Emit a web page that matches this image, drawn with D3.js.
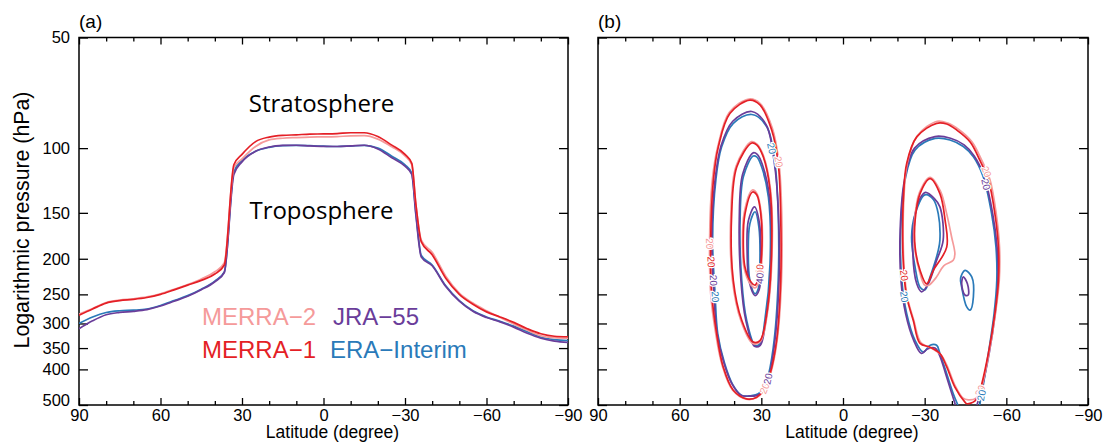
<!DOCTYPE html>
<html><head><meta charset="utf-8">
<script src="https://cdn.jsdelivr.net/npm/d3@7"></script>
<style>body{margin:0;background:#fff} svg{display:block}</style>
</head><body><svg id="c" width="1106" height="448"></svg>
<script>
// ---------- Panel (a): tropopause pressure (hPa) vs latitude ----------
const latA = [90,85,80,75,70,65,60,55,50,45,40,36.5,33,30,25,20,15,10,5,0,-5,-10,-15,-20,-25,-30,-32.5,-34,-36,-40,-45,-50,-55,-60,-65,-70,-75,-80,-85,-90];
const merra2A = [283,273,263,259,257,254,249,242,235,227,217,205,113,107,99,95,94,93.6,93.3,93.2,93,92.6,92.5,94.5,99,105,111,142,178,192,223,248,264,277,289,301,313,324,328,329];
const merra1A = [285,274,264,260,258,255,250,243,236,229,220,208,111,104,96,93.3,92.3,92,91.6,91.5,91.3,90.8,90.8,93,98,104,110,142,180,195,226,250,266,279,288,298,310,320,325,326];
const jra55A  = [310,295,284,280,278,275,269,261,253,243,231,218,118,109,102,99.3,98.3,98.2,98.6,98.9,99,98.6,98.2,100.5,106,112,118,152,198,209,238,261,278,289,297,307,319,329,335,338];
const eraA    = [300,288,280,277,276,274,268,260,252,242,230,217,116,108,102,99.5,98.5,98.3,98.5,98.8,99,98.7,98.3,100,105,111,117,150,196,208,237,260,277,288,296,305,316,327,332,334];

// ---------- Panel (b): zonal wind contours, [latitude, pressure] ----------
// Northern jet
const nh20_merra1 = [[34.2,74],[30.5,76.3],[26.2,89.3],[23.8,110],[22.9,151],[22.9,229],[24.4,334],[26.8,411],[29.3,456],[31.7,476],[35.4,481],[40.3,456],[44,394],[46.4,320],[48.2,249],[48.6,178],[47.6,122],[45.8,99.3],[41.5,80.4]];
const nh20_merra2 = [[34.5,73.5],[30.5,75.5],[26,88],[23.5,110],[22.5,151],[22.6,229],[24.2,334],[26.6,411],[29.2,458],[31.8,478],[35.6,482],[40.6,455],[44.3,392],[46.8,318],[48.6,249],[49,178],[48,122],[46,99],[41.8,80]];
const nh20_era = [[33.5,81],[28,87.5],[25,110],[23.8,151],[23.8,229],[25.6,348],[28,428],[31.1,466],[34,472],[37.2,471],[40.5,440],[43.5,385],[46,320],[47,249],[47.9,178],[46.7,122],[44.6,99.3],[40.3,85.6]];
const nh20_jra = [[33.5,79.5],[28.2,86.5],[25.2,110],[23.7,151],[23.5,229],[25.3,348],[27.7,430],[30.8,468],[34,473],[37.5,470],[40.8,438],[43.8,383],[46.3,318],[47.4,249],[48.2,178],[47,122],[44.8,98.5],[40.5,84.5]];
const nh30_merra1 = [[33.5,96.8],[31.7,98],[29.3,105.6],[26.8,130],[26.2,186],[28,282],[30.5,334],[33,337],[37.2,294],[40.3,229],[40.9,151],[39,112.4]];
const nh30_merra2 = [[33.6,96],[31.6,97.5],[29.2,105],[26.6,130],[26,186],[27.8,282],[30.4,336],[33.2,340],[37.5,295],[40.6,229],[41.2,151],[39.3,112]];
const nh30_era = [[33,105.1],[31.7,105.6],[29.9,112.4],[27.4,136],[26.8,206],[28.7,294],[30.5,341],[32.3,344],[35.4,294],[37.2,229],[37.8,157],[36.6,119.7]];
const nh30_jra = [[33,103],[31.5,104],[29.6,111],[27,136],[26.4,206],[28.4,296],[30.4,344],[32.5,346],[35.7,294],[37.5,229],[38.1,156],[36.9,118]];
const nh40_merra1 = [[33.2,131.6],[31.7,134],[30.2,151],[29.9,194],[31.1,226],[32.3,236],[34.2,229],[36,211],[36.6,186],[36,151]];
const nh40_merra2 = [[33.3,130],[31.6,133],[30,151],[29.7,194],[30.6,228],[32.3,240],[34.4,232],[36.3,212],[36.9,186],[36.3,150]];
const nh40_era = [[32.3,149],[30.9,164],[30.5,202],[31.1,241],[32.3,249],[34.2,229],[34.8,194],[34.2,160.5]];
const nh40_jra = [[32.5,144.5],[30.7,160],[30.2,202],[30.8,243],[32.3,252],[34.5,230],[35.2,194],[34.8,158]];
// Southern jet
const sh20_merra1 = [[-34.4,85.6],[-38.1,86],[-41.8,89.3],[-46.7,96.2],[-50.3,108],[-53.4,122],[-55.8,151],[-57.1,186],[-57.1,229],[-55.8,282],[-53.4,362],[-50.3,456],[-48.5,487],[-45.5,496],[-44.8,491],[-41.1,447],[-38.1,394],[-35.6,362],[-32,348],[-28.3,340],[-25.8,294],[-23.4,254],[-22.4,219],[-21.9,178],[-22.2,136],[-23.4,110],[-27.1,93.2]];
const sh20_merra2 = [[-34.6,84.5],[-38.5,85.5],[-42.5,89],[-47.3,96],[-51,108],[-54,122],[-56.3,151],[-57.5,186],[-57.4,229],[-56,282],[-53.6,362],[-50.8,450],[-49,478],[-46,484],[-44,478],[-41,440],[-38.3,392],[-36,365],[-33,352],[-28.6,338],[-26,294],[-23.6,254],[-22.6,219],[-22.1,178],[-22.4,136],[-23.6,110],[-27.3,92.5]];
const sh20_era = [[-42.2,500],[-40.5,466],[-38.1,411],[-35.6,362],[-34.4,344],[-32,344],[-29.5,359],[-26.5,334],[-23.4,282],[-21.6,229],[-21.2,167],[-22.8,122],[-26.5,101.2],[-33.8,94.1],[-39.3,95],[-44.2,99],[-47.9,105.6],[-51.5,119.7],[-54.6,151],[-56.2,186],[-56.5,229],[-55.5,282],[-53.4,362],[-51.2,456],[-50.2,500]];
const sh20_jra = [[-41.3,500],[-40,466],[-37.7,411],[-35.4,365],[-33.8,350],[-31,352],[-28.8,362],[-26,334],[-23,282],[-21.3,229],[-21,167],[-22.6,122],[-26.3,100],[-33.8,93],[-39.5,94],[-44.5,98],[-48.2,105],[-51.8,119],[-55,151],[-56.6,186],[-56.9,229],[-55.9,282],[-53.7,362],[-50.8,456],[-49.2,500]];
const sh30_merra1 = [[-32,121],[-35.6,133],[-37.5,157],[-38.1,186],[-33.2,215],[-30.7,234],[-28.3,215],[-26.5,186],[-26.5,157],[-28.3,133]];
const sh30_merra2 = [[-32,120],[-35.8,131],[-38.1,151],[-39.9,174.5],[-41.1,194],[-40.5,202],[-37,209],[-34.4,224],[-31.5,236],[-30,236],[-28,215],[-26.3,186],[-26.3,157],[-28.1,132]];
const sh30_era = [[-30.1,134],[-33.2,138],[-35,151],[-35.6,178],[-35,189.7],[-32,224],[-30.1,243],[-28.3,239],[-26.5,211],[-25.2,174.5],[-26.5,151]];
const sh30_jra = [[-30.3,132],[-33.5,137],[-35.6,144.5],[-36.8,178],[-34.4,202],[-31.3,234],[-28.9,246],[-27.1,234],[-25.6,186],[-26.5,151],[-28.3,137]];
const sh40_era = [[-44.8,215],[-47.3,224],[-47.9,254],[-46.7,276],[-45.4,270],[-43.6,239],[-43.2,226]];
const sh40_jra = [[-44.2,224],[-45.7,234],[-46,251],[-44.8,251],[-43.6,234]];

// contour labels: [text, dataset, latitude, pressure]
const contourLabels = [
  ["20","MERRA-2",48.6,182],["20","MERRA-1",48.6,204],["20","JRA-55",48.2,229],["20","ERA-Interim",47.9,254],
  ["20","ERA-Interim",25.8,100],["20","MERRA-2",23.8,109],
  ["40","MERRA-1",31.1,214],["40","MERRA-2",31.0,222],["40","JRA-55",30.5,226],
  ["20","MERRA-2",29.9,447],["20","JRA-55",28,424],
  ["20","MERRA-2",-51.5,117],["20","JRA-55",-51.5,126],
  ["20","MERRA-1",-22.6,222],["20","ERA-Interim",-22.2,254],
  ["20","MERRA-2",-49.1,452],["20","ERA-Interim",-51,471]
];

const datasets = ["ERA-Interim","JRA-55","MERRA-2","MERRA-1"]; // drawing order
const colors = {"MERRA-2":"#f59a9a","MERRA-1":"#e41f26","JRA-55":"#6a3d9a","ERA-Interim":"#2a7ab9"};
const seriesA = {"MERRA-2":merra2A,"MERRA-1":merra1A,"JRA-55":jra55A,"ERA-Interim":eraA};
const contoursB = {
  "MERRA-1":[[nh20_merra1,true],[nh30_merra1,true],[nh40_merra1,true],[sh20_merra1,true],[sh30_merra1,true]],
  "MERRA-2":[[nh20_merra2,true],[nh30_merra2,true],[nh40_merra2,true],[sh20_merra2,true],[sh30_merra2,true]],
  "ERA-Interim":[[nh20_era,true],[nh30_era,true],[nh40_era,true],[sh20_era,false],[sh30_era,true],[sh40_era,true]],
  "JRA-55":[[nh20_jra,true],[nh30_jra,true],[nh40_jra,true],[sh20_jra,false],[sh30_jra,true],[sh40_jra,true]]
};

const xMajor = [90,60,30,0,-30,-60,-90];
const xMinor = d3.range(80,-90,-10).filter(v => v % 30 !== 0);
const yTicks = [50,100,150,200,250,300,350,400,500];

// ---------- drawing ----------
const svg = d3.select("#c");
const FONT = "'Liberation Sans', Arial, Helvetica, sans-serif";
const yTop = 37.5, yBot = 405;
const panels = [{x0:79,x1:568,label:"(a)"},{x0:598,x1:1088,label:"(b)"}];
const yScale = d3.scaleLog().domain([50,500]).range([yTop,yBot]);

panels.forEach((P,i) => {
  P.x = d3.scaleLinear().domain([90,-90]).range([P.x0,P.x1]);
  const g = svg.append("g");
  const fmt = d3.format("d");
  const bMaj = g.append("g").attr("transform",`translate(0,${yBot})`)
    .call(d3.axisBottom(P.x).tickValues(xMajor).tickSize(-7).tickPadding(4).tickFormat(fmt));
  const bMin = g.append("g").attr("transform",`translate(0,${yBot})`)
    .call(d3.axisBottom(P.x).tickValues(xMinor).tickSize(-4).tickFormat(""));
  const tMaj = g.append("g").attr("transform",`translate(0,${yTop})`)
    .call(d3.axisTop(P.x).tickValues(xMajor).tickSize(-7).tickFormat(""));
  const tMin = g.append("g").attr("transform",`translate(0,${yTop})`)
    .call(d3.axisTop(P.x).tickValues(xMinor).tickSize(-4).tickFormat(""));
  const lAx = g.append("g").attr("transform",`translate(${P.x0},0)`)
    .call(d3.axisLeft(yScale).tickValues(yTicks).tickSize(-9).tickPadding(9).tickFormat(i===0 ? fmt : ""));
  const rAx = g.append("g").attr("transform",`translate(${P.x1},0)`)
    .call(d3.axisRight(yScale).tickValues(yTicks).tickSize(-9).tickFormat(""));
  [bMaj,bMin,tMaj,tMin,lAx,rAx].forEach(a => {
    a.select(".domain").remove();
    a.selectAll("line").attr("stroke","#000").attr("stroke-width",1.3);
    a.selectAll("text").attr("font-family",FONT).attr("font-size",16.5).attr("fill","#000");
  });
  lAx.selectAll(".tick").filter(d => d===500).select("text").attr("dy","0.05em");
  g.append("rect").attr("x",P.x0).attr("y",yTop).attr("width",P.x1-P.x0).attr("height",yBot-yTop)
    .attr("fill","none").attr("stroke","#000").attr("stroke-width",1.5);
  g.append("text").attr("x",P.x0).attr("y",28).text(P.label)
    .attr("font-family",FONT).attr("font-size",19);
  g.append("text").attr("x",(P.x0+P.x1)/2+9).attr("y",438).attr("text-anchor","middle")
    .text("Latitude (degree)").attr("font-family",FONT).attr("font-size",17.5);
});

svg.append("text").attr("transform","translate(29,220) rotate(-90)").attr("text-anchor","middle")
  .text("Logarithmic pressure (hPa)").attr("font-family",FONT).attr("font-size",21.3);

// panel a lines
const PA = panels[0];
const lineA = d3.line().x(d => PA.x(d[0])).y(d => yScale(d[1])).curve(d3.curveMonotoneX);
svg.append("clipPath").attr("id","clipA").append("rect")
  .attr("x",PA.x0).attr("y",yTop).attr("width",PA.x1-PA.x0).attr("height",yBot-yTop);
const gA = svg.append("g").attr("clip-path","url(#clipA)");
datasets.forEach(k => {
  gA.append("path").datum(latA.map((l,j) => [l, seriesA[k][j]]))
    .attr("d",lineA).attr("fill","none").attr("stroke",colors[k]).attr("stroke-width",1.7);
});
const SF = "'Open Sans', 'Noto Sans', sans-serif";
svg.append("text").attr("x",PA.x(0)-2).attr("y",112).attr("text-anchor","middle")
  .text("Stratosphere").attr("font-family",SF).attr("font-size",24);
svg.append("text").attr("x",PA.x(0)-2).attr("y",219).attr("text-anchor","middle")
  .text("Troposphere").attr("font-family",SF).attr("font-size",24);
const legend = [["MERRA−2","MERRA-2",202,325],["JRA−55","JRA-55",333,325],["MERRA−1","MERRA-1",202,358],["ERA−Interim","ERA-Interim",330,358]];
legend.forEach(([t,k,x,y]) => svg.append("text").attr("x",x).attr("y",y).text(t)
  .attr("fill",colors[k]).attr("font-family",FONT).attr("font-size",24));

// panel b contours
const PB = panels[1];
svg.append("clipPath").attr("id","clipB").append("rect")
  .attr("x",PB.x0).attr("y",yTop).attr("width",PB.x1-PB.x0).attr("height",yBot-yTop);
const gB = svg.append("g").attr("clip-path","url(#clipB)");
const px = d => [PB.x(d[0]), yScale(d[1])];
const closedLine = d3.line().x(d => PB.x(d[0])).y(d => yScale(d[1])).curve(d3.curveCatmullRomClosed.alpha(0.5));
const openLine = d3.line().x(d => PB.x(d[0])).y(d => yScale(d[1])).curve(d3.curveCatmullRom.alpha(0.5));
datasets.forEach(k => {
  contoursB[k].forEach(([pts,closed]) => {
    gB.append("path").datum(pts).attr("d", closed ? closedLine : openLine)
      .attr("fill","none").attr("stroke",colors[k]).attr("stroke-width",1.7);
  });
});
contourLabels.forEach(([t,k,lat,p]) => {
  const q = px([lat,p]);
  let best = null;
  contoursB[k].forEach(([pts,closed]) => {
    const s = pts.map(px);
    const n = closed ? s.length : s.length-1;
    for (let j=0;j<n;j++){
      const a = s[j], b = s[(j+1)%s.length];
      const dx=b[0]-a[0], dy=b[1]-a[1];
      let u = ((q[0]-a[0])*dx+(q[1]-a[1])*dy)/(dx*dx+dy*dy);
      u = Math.max(0,Math.min(1,u));
      const c=[a[0]+u*dx,a[1]+u*dy];
      const dist=Math.hypot(c[0]-q[0],c[1]-q[1]);
      if(!best||dist<best.dist) best={dist,c,ang:Math.atan2(dy,dx)*180/Math.PI};
    }
  });
  let ang = best.ang; if (ang>90) ang-=180; if (ang<-90) ang+=180;
  gB.append("text").attr("transform",`translate(${best.c[0]},${best.c[1]}) rotate(${ang})`)
    .attr("text-anchor","middle").attr("dy","0.35em").text(t)
    .attr("font-family",FONT).attr("font-size",10).attr("fill",colors[k])
    .attr("stroke","#fff").attr("stroke-width",2.5).attr("paint-order","stroke");
});
</script></body></html>
